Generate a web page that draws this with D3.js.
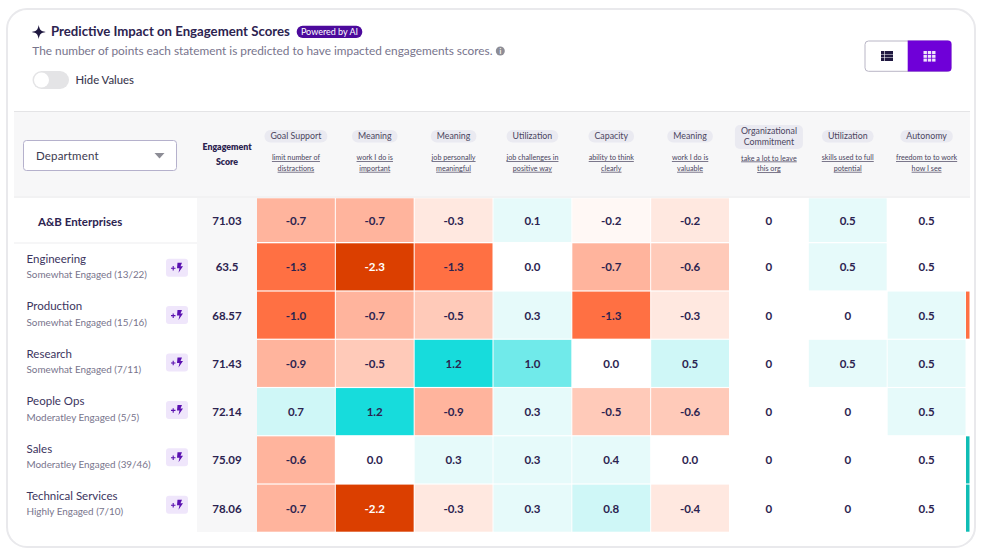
<!DOCTYPE html>
<html>
<head>
<meta charset="utf-8">
<script src="https://cdnjs.cloudflare.com/ajax/libs/d3/7.8.5/d3.min.js"></script>
<style>
html, body { margin: 0; padding: 0; background: #fff; }
svg { display: block; font-family: Lato, sans-serif; }
</style>
</head>
<body>
<svg id="chart" width="981" height="554"></svg>
<script>
var themes = ["Goal Support", "Meaning", "Meaning", "Utilization", "Capacity", "Meaning", "Organizational|Commitment", "Utilization", "Autonomy"];
var statements = ["limit number of|distractions", "work I do is|important", "job personally|meaningful", "job challenges in|positive way", "ability to think|clearly", "work I do is|valuable", "take a lot to leave|this org", "skills used to full|potential", "freedom to to work|how I see"];
var departments = ["Engineering", "Production", "Research", "People Ops", "Sales", "Technical Services"];
var engagement = ["Somewhat Engaged (13/22)", "Somewhat Engaged (15/16)", "Somewhat Engaged (7/11)", "Moderatley Engaged (5/5)", "Moderatley Engaged (39/46)", "Highly Engaged (7/10)"];
var scores = ["63.5", "68.57", "71.43", "72.14", "75.09", "78.06"];
var companyName = "A&B Enterprises";
var companyScore = "71.03";
var companyValues = ["-0.7", "-0.7", "-0.3", "0.1", "-0.2", "-0.2", "0", "0.5", "0.5"];
var companyBands = [-4, -4, -2, 1, -1, -2, 0, 1, 0];
var values = [
	["-1.3", "-2.3", "-1.3", "0.0", "-0.7", "-0.6", "0", "0.5", "0.5"],
	["-1.0", "-0.7", "-0.5", "0.3", "-1.3", "-0.3", "0", "0", "0.5"],
	["-0.9", "-0.5", "1.2", "1.0", "0.0", "0.5", "0", "0.5", "0.5"],
	["0.7", "1.2", "-0.9", "0.3", "-0.5", "-0.6", "0", "0", "0.5"],
	["-0.6", "0.0", "0.3", "0.3", "0.4", "0.0", "0", "0", "0.5"],
	["-0.7", "-2.2", "-0.3", "0.3", "0.8", "-0.4", "0", "0", "0.5"]
];
// colour band of each cell, the picture does not shade strictly by value
var bands = [
	[-5, -6, -5, 0, -4, -3, 0, 1, 0],
	[-5, -4, -3, 1, -5, -2, 0, 0, 1],
	[-4, -3, 4, 3, 0, 2, 0, 1, 1],
	[2, 4, -4, 1, -3, -3, 0, 0, 1],
	[-4, 0, 1, 1, 1, 0, 0, 0, 0],
	[-4, -6, -2, 1, 2, -2, 0, 0, 0]
];
var sideMarks = ["none", "low", "none", "none", "high", "high"];

var ink = "#2c2350", muted = "#77748c", purple = "#6f00d8";
var svg = d3.select("#chart");

var color = d3.scaleOrdinal()
	.domain([-6, -5, -4, -3, -2, -1, 0, 1, 2, 3, 4])
	.range(["#db3f00", "#ff7043", "#ffb49d", "#ffcab9", "#ffe8e0", "#fff8f5", "#ffffff", "#e6fafa", "#cff7f7", "#70eaea", "#17dcdc"]);
var sideColor = d3.scaleOrdinal().domain(["low", "high"]).range(["#ff7043", "#0fbdb5"]);

var x = d3.scaleBand().domain(d3.range(themes.length)).range([257, 965.5]).paddingInner(0.0127);
var y = d3.scaleBand().domain(departments).range([243.3, 531.7]).paddingInner(0.024);
var yTop = d3.scaleBand().domain([companyName]).range([198.3, 242]);
// the row labels sit on a slightly tighter pitch than the cells
var yLabel = d3.scalePoint().domain(departments).range([267.7, 504.7]);

// card and grey panels
svg.append("rect").attr("x", 7).attr("y", 9).attr("width", 968).attr("height", 538).attr("rx", 20)
	.attr("fill", "#fff").attr("stroke", "#e9e9ec").attr("stroke-width", 2);
svg.append("rect").attr("x", 14).attr("y", 111).attr("width", 956).attr("height", 87).attr("fill", "#f7f7f8");
svg.append("rect").attr("x", 14).attr("y", 111).attr("width", 956).attr("height", 1).attr("fill", "#e4e4e6");
svg.append("rect").attr("x", 14).attr("y", 196).attr("width", 956).attr("height", 2).attr("fill", "#f2f2f3");
svg.append("rect").attr("x", 197).attr("y", 198).attr("width", 60).attr("height", 334).attr("fill", "#f7f7f8");
svg.append("rect").attr("x", 14).attr("y", 242).attr("width", 183).attr("height", 2).attr("fill", "#f6f6f7");

// title block
svg.append("path").attr("transform", "translate(38.7,32)")
	.attr("d", "M0,-7 C1,-2 2,-1 7,0 C2,1 1,2 0,7 C-1,2 -2,1 -7,0 C-2,-1 -1,-2 0,-7Z").attr("fill", "#1f1840");
svg.append("text").attr("x", 51).attr("y", 36).attr("font-size", 13.2).attr("font-weight", 700).attr("fill", ink)
	.text("Predictive Impact on Engagement Scores");
svg.append("rect").attr("x", 296.7).attr("y", 25.7).attr("width", 65.6).attr("height", 12.3).attr("rx", 6).attr("fill", "#4c0a9c");
svg.append("text").attr("x", 329.5).attr("y", 35).attr("text-anchor", "middle").attr("font-size", 9).attr("fill", "#fff")
	.text("Powered by AI");
svg.append("text").attr("x", 32.3).attr("y", 55).attr("font-size", 11.83).attr("fill", muted)
	.text("The number of points each statement is predicted to have impacted engagements scores.");
svg.append("circle").attr("cx", 500.3).attr("cy", 51).attr("r", 4.5).attr("fill", "#8d8d96");
svg.append("text").attr("x", 500.3).attr("y", 54).attr("text-anchor", "middle").attr("font-size", 7).attr("font-weight", 700).attr("fill", "#fff").text("i");

// toggle
svg.append("rect").attr("x", 32.5).attr("y", 71).attr("width", 36.5).attr("height", 18).attr("rx", 9).attr("fill", "#e4e4e6");
svg.append("circle").attr("cx", 41.5).attr("cy", 80).attr("r", 7.5).attr("fill", "#fff");
svg.append("text").attr("x", 75.5).attr("y", 84).attr("font-size", 11.3).attr("font-weight", 500).attr("fill", "#3c3a50").text("Hide Values");

// view switch
svg.append("rect").attr("x", 865).attr("y", 41).attr("width", 86).attr("height", 30.3).attr("rx", 3.5).attr("fill", "#fff").attr("stroke", "#b9b6c6");
svg.append("path").attr("d", "M907.7,40.5H948a3.5,3.5 0 0 1 3.5,3.5V68a3.5,3.5 0 0 1 -3.5,3.5H907.7Z").attr("fill", purple);
d3.range(3).forEach(function(r) {
	svg.append("rect").attr("x", 881).attr("y", 51 + r * 3.5).attr("width", 3).attr("height", 3).attr("fill", "#1f1840");
	svg.append("rect").attr("x", 884.6).attr("y", 51 + r * 3.5).attr("width", 8.4).attr("height", 3).attr("fill", "#1f1840");
	d3.range(3).forEach(function(c) {
		svg.append("rect").attr("x", 923.5 + c * 4.3).attr("y", 51 + r * 3.8).attr("width", 3.4).attr("height", 3).attr("fill", "#fff").attr("opacity", 0.9);
	});
});

// dropdown
svg.append("rect").attr("x", 23.5).attr("y", 140.5).attr("width", 153).attr("height", 30).attr("rx", 3).attr("fill", "#fff").attr("stroke", "#b5b1cc");
svg.append("text").attr("x", 36).attr("y", 159.5).attr("font-size", 11.5).attr("letter-spacing", 0.15).attr("fill", "#3c3a50").text("Department");
svg.append("path").attr("d", "M154.5,153H164.5L159.5,158.5Z").attr("fill", "#8d8d96");

// column headers
var scoreHead = svg.append("text").attr("text-anchor", "middle").attr("font-size", 8.8).attr("font-weight", 800).attr("fill", ink);
scoreHead.append("tspan").attr("x", 227).attr("y", 150).text("Engagement");
scoreHead.append("tspan").attr("x", 227).attr("y", 165).text("Score");

var head = svg.selectAll("g.head").data(themes).join("g").attr("class", "head")
	.attr("transform", function(d, i) { return "translate(" + (x(i) + x.bandwidth() / 2) + ",0)"; });
head.each(function(d, i) {
	var g = d3.select(this), lines = d.split("|"), top = lines.length > 1 ? 125 : 130;
	var pill = g.append("rect").attr("y", top).attr("rx", lines.length > 1 ? 5 : 6).attr("fill", "#eaeaf1");
	var label = g.append("text").attr("text-anchor", "middle").attr("font-size", 8.8).attr("fill", "#4a4560");
	lines.forEach(function(t, k) {
		label.append("tspan").attr("x", 0).attr("y", top + 9.3 + k * 10.8).text(t);
	});
	var w = d3.max(label.selectAll("tspan").nodes(), function(n) { return n.getComputedTextLength(); });
	pill.attr("x", -w / 2 - 6).attr("width", w + 12).attr("height", lines.length > 1 ? 24 : 12.5);
	statements[i].split("|").forEach(function(t, k) {
		g.append("text").attr("text-anchor", "middle").attr("y", (lines.length > 1 ? 160.5 : 160) + k * 10.8)
			.attr("font-size", 7.2).attr("text-decoration", "underline").attr("fill", "#4a4560").text(t);
	});
});

// heatmap cells
function drawRow(rowValues, rowBands, top, height) {
	var g = svg.append("g").attr("transform", "translate(0," + top + ")");
	g.selectAll("rect").data(rowValues).join("rect")
		.attr("x", function(d, i) { return x(i); })
		.attr("width", x.bandwidth())
		.attr("height", height)
		.attr("fill", function(d, i) { return color(rowBands[i]); });
	g.selectAll("text").data(rowValues).join("text")
		.attr("x", function(d, i) { return x(i) + x.bandwidth() / 2; })
		.attr("y", height / 2 + 4.5)
		.attr("text-anchor", "middle")
		.attr("font-size", 11.5)
		.attr("font-weight", 700)
		.attr("fill", function(d, i) { return rowBands[i] === -6 ? "#fff" : ink; })
		.text(function(d) { return d; });
}
drawRow(companyValues, companyBands, yTop(companyName), yTop.bandwidth());
values.forEach(function(row, i) {
	drawRow(row, bands[i], y(departments[i]), y.bandwidth());
});

// score column
svg.append("text").attr("x", 227).attr("y", yTop(companyName) + yTop.bandwidth() / 2 + 4.5)
	.attr("text-anchor", "middle").attr("font-size", 11.5).attr("font-weight", 700).attr("fill", ink).text(companyScore);
svg.selectAll("text.score").data(scores).join("text").attr("class", "score")
	.attr("x", 227)
	.attr("y", function(d, i) { return y(departments[i]) + y.bandwidth() / 2 + 4.5; })
	.attr("text-anchor", "middle").attr("font-size", 11.5).attr("font-weight", 700).attr("fill", ink)
	.text(function(d) { return d; });

// row labels
svg.append("text").attr("x", 38).attr("y", yTop(companyName) + yTop.bandwidth() / 2 + 5.5)
	.attr("font-size", 11.5).attr("font-weight", 700).attr("fill", ink).text(companyName);
var rows = svg.selectAll("g.row").data(departments).join("g").attr("class", "row")
	.attr("transform", function(d) { return "translate(0," + yLabel(d) + ")"; });
rows.append("text").attr("x", 26.5).attr("y", -4.7).attr("font-size", 11.5).attr("fill", "#3c3560").text(function(d) { return d; });
rows.append("text").attr("x", 26.5).attr("y", 10.8).attr("font-size", 9.9).attr("fill", muted).text(function(d, i) { return engagement[i]; });
rows.append("rect").attr("x", 166).attr("y", -9).attr("width", 22).attr("height", 18).attr("rx", 3).attr("fill", "#efe6fb");
rows.append("path").attr("d", "M171,0.5h4.5M173.2,-1.7v4.5").attr("stroke", "#5a10b0").attr("stroke-width", 1.1);
rows.append("path").attr("d", "M177.5,-5H182L180.5,-1.5H183L178.5,5L179.5,0.5H177Z").attr("fill", "#5a10b0");

// side markers
svg.selectAll("rect.side").data(sideMarks).join("rect").attr("class", "side")
	.attr("x", 966).attr("width", 3.5)
	.attr("y", function(d, i) { return y(departments[i]); })
	.attr("height", y.bandwidth())
	.attr("fill", function(d) { return d === "none" ? "none" : sideColor(d); });
</script>
</body>
</html>
